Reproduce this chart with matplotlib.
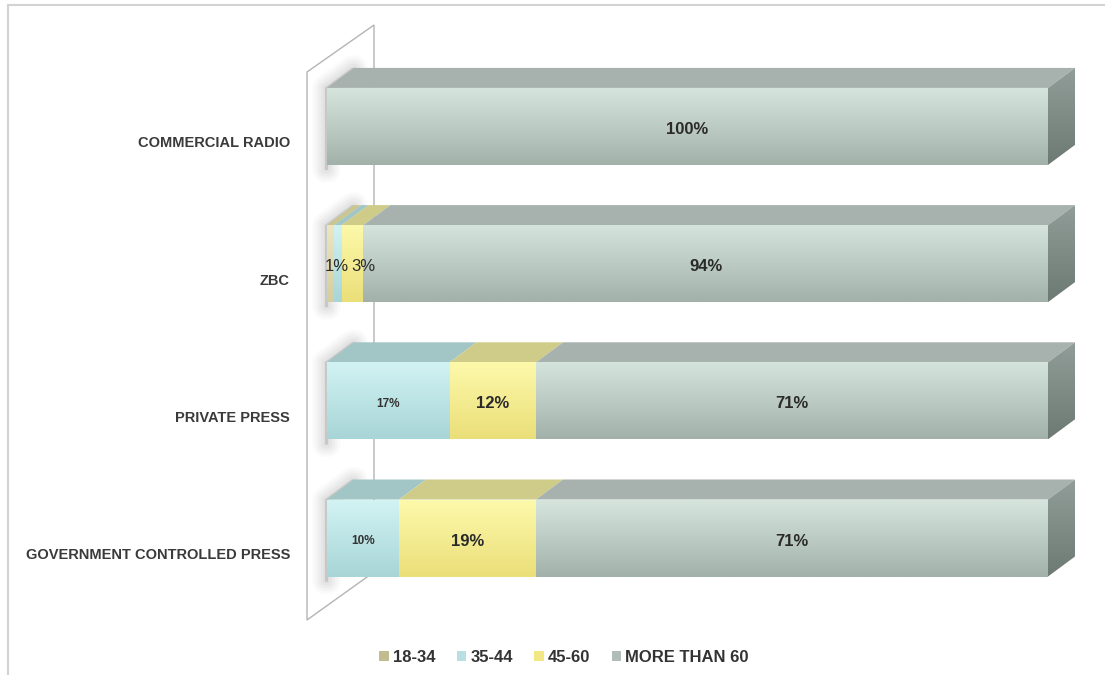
import numpy as np
import matplotlib.pyplot as plt
from matplotlib.patches import Polygon, Patch
from matplotlib.lines import Line2D
from matplotlib.colors import LinearSegmentedColormap

plt.rcParams['font.family'] = ['Liberation Sans', 'DejaVu Sans']

# media outlets (bottom to top) and age groups
categories = ['GOVERNMENT CONTROLLED PRESS', 'PRIVATE PRESS', 'ZBC', 'COMMERCIAL RADIO']
age_groups = ['18-34', '35-44', '45-60', 'MORE THAN 60']

# share of each age group per outlet, %
age_18_34 = [0, 0, 1, 0]
age_35_44 = [10, 17, 1, 0]
age_45_60 = [19, 12, 3, 0]
age_60_plus = [71, 71, 94, 100]

series = [age_18_34, age_35_44, age_45_60, age_60_plus]

# colours: front face top / bottom, top face
front_hi = ['#ece7c2', '#d2f3f3', '#fdf9ab', '#d6e4de']
front_lo = ['#d4cea0', '#a8d5d7', '#ebdf79', '#a2b2aa']
top_col = ['#c9c690', '#a2c5c5', '#cfcc89', '#a7b1ad']
legend_col = ['#c2bd8e', '#b9dfe2', '#f1e884', '#b2bdb9']
side_hi, side_lo = '#919d98', '#6d7973'

# labels left out / smaller / nudged (series, category)
no_label = {(0, 2)}
small_label = {(1, 0), (1, 1)}
plain_label = {(1, 2), (2, 2)}
nudge_px = {(1, 2): -1, (2, 2): 11}

W, H = 1105, 675
fig = plt.figure(figsize=(W / 100, H / 100), dpi=100)
ax = fig.add_axes([0, 0, 1, 1])
ax.axis('off')

# pixel layout -> data scale
x0_px, x100_px = 327, 1048
px_x = (x100_px - x0_px) / 100.0
y_first_px, row_px = 538, 137.2
xlim = (-x0_px / px_x, (W - x0_px) / px_x)
ylim = ((y_first_px - H) / row_px, y_first_px / row_px)


def dx(px):
    return px / px_x


def dy(px):
    return px / row_px


def grad_fill(verts, c_top, c_bot, z):
    verts = np.asarray(verts)
    poly = Polygon(verts, closed=True, facecolor='none', edgecolor='none', zorder=z)
    ax.add_patch(poly)
    cmap = LinearSegmentedColormap.from_list('g', [c_bot, c_top])
    g = np.linspace(0, 1, 64).reshape(-1, 1)
    im = ax.imshow(g, cmap=cmap, origin='lower', aspect='auto', interpolation='bilinear',
                   extent=(verts[:, 0].min(), verts[:, 0].max(), verts[:, 1].min(), verts[:, 1].max()),
                   zorder=z)
    im.set_clip_path(poly)


bar_h = dy(77)
ddx, ddy = dx(27), dy(20)

# side wall
wf, wb = dx(-20), dx(47)
wall = Polygon([(wf, dy(y_first_px - 620)), (wf, dy(y_first_px - 72)),
                (wb, dy(y_first_px - 25)), (wb, dy(y_first_px - 572))],
               closed=True, facecolor='white', edgecolor='#b4b4b4', lw=1.0, zorder=1)
ax.add_patch(wall)

for i, cat in enumerate(categories):
    vals = [s[i] for s in series]
    total = float(sum(vals))
    yb, yt = i - bar_h / 2, i + bar_h / 2

    # soft shadow along the left end
    sx, sw = dx(-2), dx(3)
    sil = [(sx, yb - dy(5)), (sx, yt), (sx + ddx, yt + ddy), (sx + ddx + sw, yt + ddy),
           (sx + sw, yt), (sx + sw, yb - dy(5))]
    for lw, a in [(18, 0.03), (14, 0.04), (10, 0.05), (6, 0.05), (2, 0.05)]:
        ax.add_patch(Polygon(sil, closed=True, facecolor='#707070', edgecolor='#707070',
                             lw=lw, alpha=a, joinstyle='round', zorder=2))

    left = 0.0
    for j, v in enumerate(vals):
        if v <= 0:
            continue
        w = v / total * 100
        r = left + w
        grad_fill([(left, yb), (r, yb), (r, yt), (left, yt)], front_hi[j], front_lo[j], 5)
        ax.add_patch(Polygon([(left, yt), (r, yt), (r + ddx, yt + ddy), (left + ddx, yt + ddy)],
                             closed=True, facecolor=top_col[j], edgecolor='none', zorder=4))
        if (j, i) not in no_label:
            tx = left + w / 2 + dx(nudge_px.get((j, i), 0))
            ty = i - dy(3)
            if (j, i) in small_label:
                ax.text(tx, ty, f'{v}%', ha='center', va='center', fontsize=8.5,
                        fontweight='bold', color='#333333', zorder=7)
            elif (j, i) in plain_label:
                ax.text(tx, ty, f'{v}%', ha='center', va='center', fontsize=12,
                        color='#2a2a2a', zorder=7)
            else:
                ax.text(tx, ty, f'{v}%', ha='center', va='center', fontsize=12,
                        fontweight='bold', color='#2a2a2a', zorder=7)
        left = r

    # right end face
    grad_fill([(100, yb), (100 + ddx, yb + ddy), (100 + ddx, yt + ddy), (100, yt)],
              side_hi, side_lo, 5)

    ax.text(dx(290 - x0_px), i - dy(17), cat, ha='right', va='center', fontsize=10.5,
            fontweight='bold', color='#3a3a3a')

ax.set_xlim(*xlim)
ax.set_ylim(*ylim)

# frame lines along the top and left
fig.add_artist(Line2D([8 / W, 1], [1 - 5 / H, 1 - 5 / H], color='#d2d2d2', lw=1.5))
fig.add_artist(Line2D([8 / W, 8 / W], [0, 1 - 5 / H], color='#d2d2d2', lw=1.5))

handles = [Patch(facecolor=c, edgecolor='none') for c in legend_col]
fig.legend(handles, age_groups, loc='center', bbox_to_anchor=(564 / W, 18 / H), ncol=4,
           frameon=False, handlelength=0.55, handleheight=0.55, handletextpad=0.25,
           columnspacing=1.3, prop={'weight': 'bold', 'size': 12}, labelcolor='#333333')

fig.savefig('out.png', dpi=100)
